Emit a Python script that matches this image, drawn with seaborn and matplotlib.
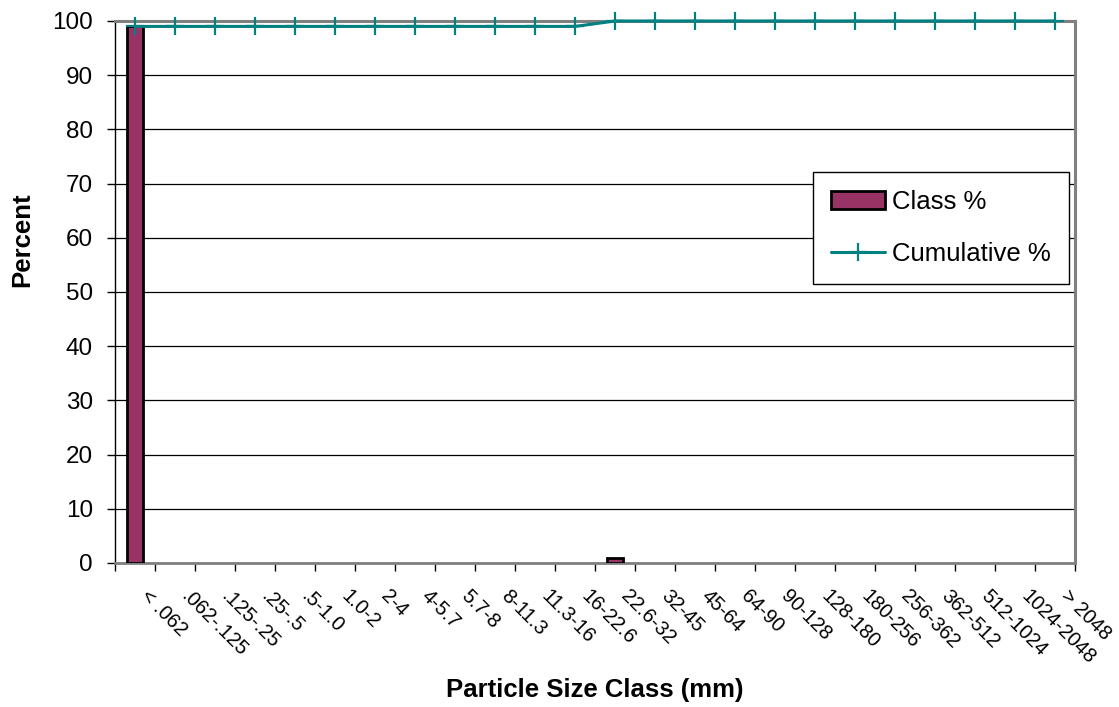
import matplotlib
matplotlib.use("Agg")
import matplotlib.pyplot as plt
import matplotlib.transforms as mtransforms
import seaborn as sns
import pandas as pd
from matplotlib.lines import Line2D
from matplotlib.patches import Patch

categories = ["< .062", ".062-.125", ".125-.25", ".25-.5", ".5-1.0", "1.0-2", "2-4",
              "4-5.7", "5.7-8", "8-11.3", "11.3-16", "16-22.6", "22.6-32", "32-45",
              "45-64", "64-90", "90-128", "128-180", "180-256", "256-362", "362-512",
              "512-1024", "1024-2048", "> 2048"]
class_pct = [99, 0, 0, 0, 0, 0, 0, 0, 0, 0, 0, 0, 1, 0, 0, 0, 0, 0, 0, 0, 0, 0, 0, 0]
cumulative_pct = [99, 99, 99, 99, 99, 99, 99, 99, 99, 99, 99, 99, 100, 100, 100, 100,
                  100, 100, 100, 100, 100, 100, 100, 100]

df = pd.DataFrame({"cat": categories, "cls": class_pct, "cum": cumulative_pct})

sns.set_style("white")
plt.rcParams['font.family'] = ['Liberation Sans', 'DejaVu Sans']
plt.rcParams['text.color'] = 'black'
plt.rcParams['axes.labelcolor'] = 'black'
plt.rcParams['xtick.color'] = 'black'
plt.rcParams['ytick.color'] = 'black'

fig = plt.figure(figsize=(11.19, 7.07), dpi=100)
ax = fig.add_axes([0.1028, 0.2037, 0.858, 0.7666])

bar_color = "#993366"
line_color = "#008080"

sns.barplot(data=df, x="cat", y="cls", color=bar_color, edgecolor="black",
            linewidth=2, width=0.4, saturation=1, ax=ax, zorder=3)
for p in ax.patches:
    if p.get_height() == 0:
        p.set_visible(False)

sns.pointplot(data=df, x="cat", y="cum", color=line_color, markers="+",
              linestyles="-", ax=ax, zorder=4, linewidth=2.2)
for ln in ax.lines:
    ln.set_markersize(13)
    ln.set_markeredgewidth(1.6)
    ln.set_linewidth(2.2)
    ln.set_clip_on(False)
    ln.set_zorder(5)

ax.set_ylim(0, 100)
ax.set_xlim(-0.5, len(categories) - 0.5)
ax.set_yticks(range(0, 101, 10))
ax.yaxis.grid(True, color="black", linewidth=0.9)
ax.set_axisbelow(True)

for side in ["top", "right"]:
    ax.spines[side].set_color("#808080")
    ax.spines[side].set_linewidth(2.2)
ax.spines["bottom"].set_color("#808080")
ax.spines["bottom"].set_linewidth(2)
ax.spines["left"].set_color("black")
ax.spines["left"].set_linewidth(1)

# ticks
ax.set_xticks(range(len(categories)))
ax.set_xticklabels(categories, rotation=-45, ha="left", va="center",
                   rotation_mode="anchor", fontsize=14.5)
ax.tick_params(axis="x", length=0, pad=22)
offset = mtransforms.ScaledTranslation(9 / 100, 0, fig.dpi_scale_trans)
for lab in ax.get_xticklabels():
    lab.set_transform(lab.get_transform() + offset)
ax.set_xticks([i + 0.5 for i in range(-1, len(categories))], minor=True)
ax.tick_params(axis="x", which="minor", length=6, width=1, color="black", bottom=True)
ax.tick_params(axis="y", length=6, width=1, color="black", left=True,
               labelsize=17.5, pad=10)

ax.set_xlabel("Particle Size Class (mm)", fontsize=18.5, fontweight="bold")
ax.xaxis.label.set_va("center")
ax.xaxis.set_label_coords(0.5, -0.234)
ax.set_ylabel("Percent", fontsize=18.5, fontweight="bold")
ax.yaxis.label.set_va("center")
ax.yaxis.set_label_coords(-0.0969, 0.596)

handles = [Patch(facecolor=bar_color, edgecolor="black", linewidth=2, label="Class %"),
           Line2D([0], [0], color=line_color, marker="+", markersize=13,
                  markeredgewidth=1.6, linewidth=2.2, label="Cumulative %")]
leg = ax.legend(handles=handles, loc="upper left",
                bbox_to_anchor=(0.727, 0.721), frameon=True, fancybox=False,
                fontsize=18.5, borderpad=0.7, labelspacing=1.1, handlelength=2.1,
                handletextpad=0.28, borderaxespad=0)
leg.get_frame().set_edgecolor("black")
leg.get_frame().set_linewidth(1)
leg.get_frame().set_alpha(1)
leg.set_zorder(6)

fig.savefig("out.png", dpi=100)
